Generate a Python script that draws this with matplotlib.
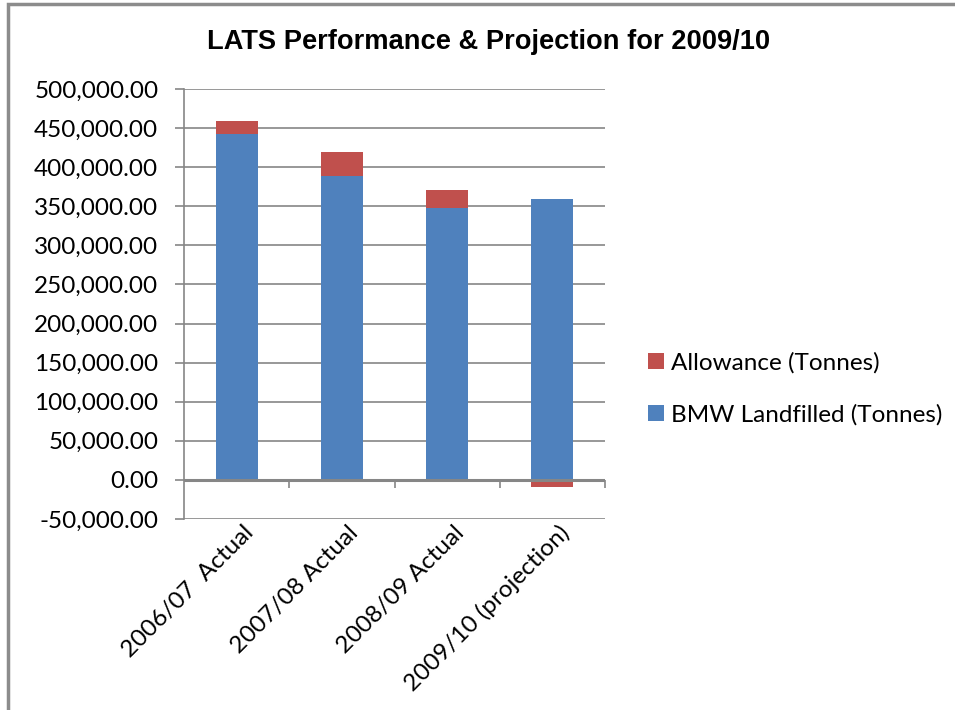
import matplotlib.pyplot as plt
import matplotlib.transforms as mtransforms
from matplotlib.patches import Rectangle
from matplotlib.ticker import FuncFormatter, MultipleLocator

categories = ["2006/07  Actual", "2007/08 Actual", "2008/09 Actual", "2009/10 (projection)"]
landfilled = [442300, 388900, 348300, 359000]
allowance = [16200, 30600, 22100, -8500]

blue = "#4f81bd"
red = "#c0504d"
grid_c = "#868686"

fig = plt.figure(figsize=(9.55, 7.1), dpi=100)
ax = fig.add_axes([0.1927, 0.2690, 0.4408, 0.6056])

x = list(range(len(categories)))
# excel stacks negatives downward from zero
red_bottom = [b if a >= 0 else 0 for a, b in zip(allowance, landfilled)]
ax.bar(x, landfilled, width=0.4, color=blue, zorder=3, label="BMW Landfilled (Tonnes)")
ax.bar(x, allowance, width=0.4, bottom=red_bottom, color=red, zorder=3,
       label="Allowance (Tonnes)")

ax.set_xlim(-0.5, len(categories) - 0.5)
ax.set_ylim(-50000, 500000)
ax.yaxis.set_major_locator(MultipleLocator(50000))
ax.yaxis.set_major_formatter(FuncFormatter(lambda v, p: f"{v:,.2f}"))
ax.grid(axis="y", color=grid_c, linewidth=1.2, zorder=0)
ax.axhline(0, color=grid_c, linewidth=2.2, zorder=4)

for s in ["top", "right", "bottom"]:
    ax.spines[s].set_visible(False)
ax.spines["left"].set_color(grid_c)
ax.spines["left"].set_linewidth(1.2)
ax.tick_params(axis="y", length=6.5, width=1.2, color=grid_c, labelsize=17.5, pad=12)

ax.set_xticks(x)
ax.set_xticklabels(categories, rotation=45, ha="right", rotation_mode="anchor", fontsize=17.5)
ax.tick_params(axis="x", length=0, pad=2)
offset = mtransforms.ScaledTranslation(6 / 100, 0, fig.dpi_scale_trans)
for lab in ax.get_xticklabels():
    lab.set_transform(lab.get_transform() + offset)

# category boundary ticks on the zero line
sec = ax.secondary_xaxis(0, transform=ax.transData)
sec.set_xticks([i + 0.5 for i in x])
sec.set_xticklabels([])
sec.tick_params(axis="x", direction="out", length=6, width=1.2, color=grid_c)
sec.spines["bottom"].set_visible(False)

for lab in ax.get_yticklabels():
    lab.set_fontfamily("Lato")
for lab in ax.get_xticklabels():
    lab.set_fontfamily("Lato")

fig.text(0.512, 0.941, "LATS Performance & Projection for 2009/10", ha="center", va="center",
         fontsize=19.6, fontweight="bold", family="Liberation Sans")

h, l = ax.get_legend_handles_labels()
fig.legend(h[::-1], l[::-1], loc="center left", bbox_to_anchor=(0.6555, 0.452),
           frameon=False, prop={"family": "Lato", "size": 17.5},
           handlelength=0.65, handleheight=0.65, handletextpad=0.3, labelspacing=1.25)

fig.add_artist(Rectangle((8 / 955, -0.1), 1.2, 1.1 - 4 / 710, transform=fig.transFigure,
                         fill=False, edgecolor="#8c8c8c", linewidth=2.5))

fig.savefig("out.png", dpi=100)
